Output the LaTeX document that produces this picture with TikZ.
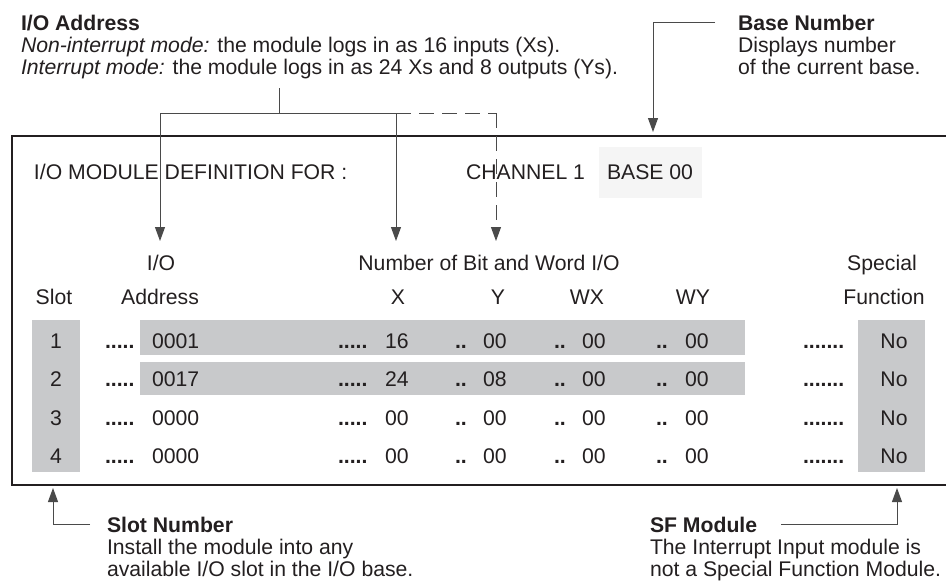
\documentclass[tikz,border=0pt]{standalone}
\usepackage{fontspec}
\setmainfont{Liberation Sans}
\usetikzlibrary{arrows.meta}
\definecolor{txt}{HTML}{231F20}
\definecolor{band}{HTML}{C8C9CB}
\definecolor{basebg}{HTML}{F5F5F5}
\definecolor{lead}{HTML}{4A4A4A}
\tikzset{
  every node/.style={inner sep=0pt, outer sep=0pt, text=txt, font=\fontsize{21.2}{22}\selectfont},
  lbl/.style={anchor=base west},
  ctr/.style={anchor=base},
  leader/.style={draw=lead, line width=1pt},
  tip/.style={-{Triangle[length=14pt,width=10pt]}},
  dashline/.style={dash pattern=on 15pt off 8pt},
  frame/.style={draw=txt, line width=2pt},
  bandfill/.style={fill=band, draw=none},
}
\begin{document}
\begin{tikzpicture}[x=1pt,y=-1pt]
\useasboundingbox (0,0) rectangle (946,582);
% shaded areas
\fill[basebg] (599,147) rectangle (702,198);
\path[bandfill] (32,320) rectangle (80,472);
\path[bandfill] (858,320) rectangle (925,472);
\path[bandfill] (140,320) rectangle (745,355);
\path[bandfill] (140,362) rectangle (745,395);
% frame (open to the right)
\draw[frame] (946,136) -- (12,136) -- (12,485) -- (946,485);

% top-left annotation
\node[lbl] (ioT) at (21,30) {\bfseries I/O Address};
\node[lbl] (ioL1) at (21,52) {\itshape Non-interrupt mode:\upshape{} the module logs in as 16 inputs (Xs).};
\node[lbl] (ioL2) at (21,74) {\itshape Interrupt mode:\upshape{} the module logs in as 24 Xs and 8 outputs (Ys).};
% top-right annotation
\node[lbl] (bnT) at (738,30) {\bfseries Base Number};
\node[lbl] (bnL1) at (738,52) {Displays number};
\node[lbl] (bnL2) at (738,74) {of the current base.};

% title row
\node[lbl] (title) at (34,179.5) {I/O MODULE DEFINITION FOR :};
\node[lbl] (chan) at (466,179.5) {CHANNEL 1};
\node[lbl] (base) at (607,179.5) {BASE 00};

% headers
\node[ctr] (hIO) at (161,270.5) {I/O};
\node[ctr] (hNum) at (489,270.5) {Number of Bit and Word I/O};
\node[ctr] (hSp) at (882,270.5) {Special};
\node[ctr] (hSlot) at (54,304.5) {Slot};
\node[ctr] (hAddr) at (160,304.5) {Address};
\node[ctr] (hX) at (398,304.5) {X};
\node[ctr] (hY) at (498,304.5) {Y};
\node[ctr] (hWX) at (587,304.5) {WX};
\node[ctr] (hWY) at (693,304.5) {WY};
\node[ctr] (hFn) at (884,304.5) {Function};

% data rows (baselines)
\foreach \r/\yy/\ad/\xv/\yv in {1/348.5/0001/16/00, 2/386.5/0017/24/08, 3/425.5/0000/00/00, 4/463.5/0000/00/00}{
  \node[ctr] (s\r) at (56,\yy) {\r};
  \node[lbl] (d1\r) at (105,\yy) {\bfseries .....};
  \node[lbl] (a\r) at (152,\yy) {\ad};
  \node[lbl] (d2\r) at (338,\yy) {\bfseries .....};
  \node[lbl] (x\r) at (385,\yy) {\xv};
  \node[lbl] (d3\r) at (455,\yy) {\bfseries ..};
  \node[lbl] (y\r) at (483,\yy) {\yv};
  \node[lbl] (d4\r) at (554,\yy) {\bfseries ..};
  \node[lbl] (wx\r) at (582,\yy) {00};
  \node[lbl] (d5\r) at (656,\yy) {\bfseries ..};
  \node[lbl] (wy\r) at (685,\yy) {00};
  \node[lbl] (d6\r) at (803,\yy) {\bfseries .......};
  \node[ctr] (n\r) at (894,\yy) {No};
}

% bottom annotations
\node[lbl] (snT) at (107,532) {\bfseries Slot Number};
\node[lbl] (snL1) at (107,554) {Install the module into any};
\node[lbl] (snL2) at (107,576) {available I/O slot in the I/O base.};
\node[lbl] (sfT) at (650,532) {\bfseries SF Module};
\node[lbl] (sfL1) at (650,554) {The Interrupt Input module is};
\node[lbl] (sfL2) at (650,576) {not a Special Function Module.};

% leader coordinates
\coordinate (ioTop) at (279,88);
\coordinate (ioJ) at (279,113);
\coordinate (ioA) at (160,113);
\coordinate (ioB) at (396,113);
\coordinate (ioC) at (496,113);
\coordinate (ioAt) at (160,241);
\coordinate (ioBt) at (396,241);
\coordinate (ioCt) at (496,241);
\coordinate (bnS) at (715,22);
\coordinate (bnK) at (653,22);
\coordinate (bnE) at (653,132);
\coordinate (snS) at (90,524);
\coordinate (snK) at (53,524);
\coordinate (snE) at (53,488);
\coordinate (sfS) at (781,524);
\coordinate (sfK) at (897,524);
\coordinate (sfE) at (897,488);

% leaders
\draw[leader] (ioTop) -- (ioJ);
\draw[leader] (ioA) -- (ioB);
\draw[leader, dashline] (ioB) -- (ioC);
\draw[leader, tip] (ioA) -- (ioAt);
\draw[leader, tip] (ioB) -- (ioBt);
\draw[leader, dashline, tip] (ioC) -- (ioCt);
\draw[leader, tip] (bnS) -- (bnK) -- (bnE);
\draw[leader, tip] (snS) -- (snK) -- (snE);
\draw[leader, tip] (sfS) -- (sfK) -- (sfE);
\end{tikzpicture}
\end{document}
